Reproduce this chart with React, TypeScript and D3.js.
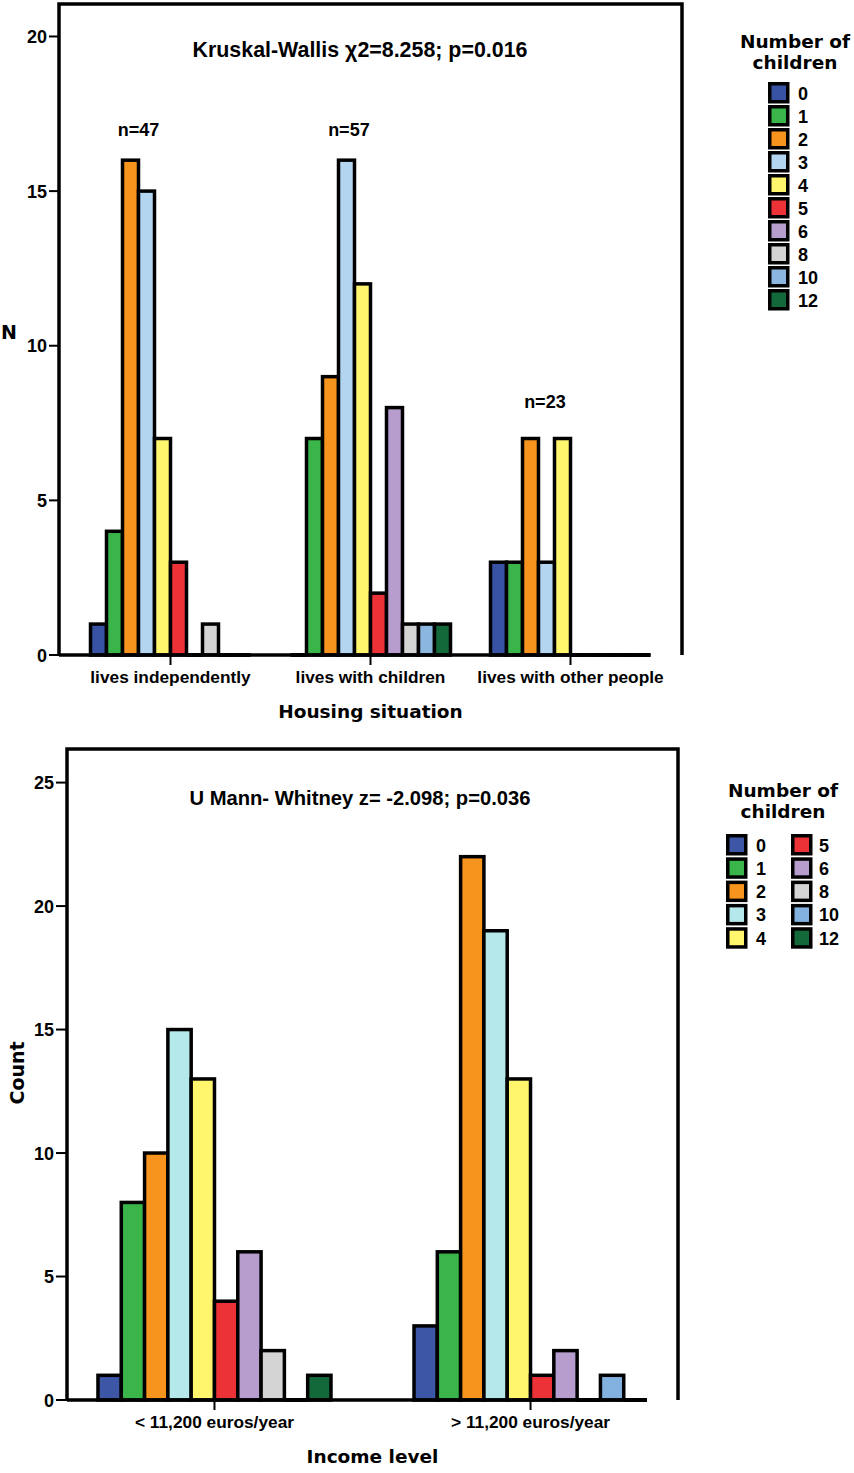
import React from "react";
import * as d3 from "d3";

// ---------- DATA ----------
const childKeys = ["0", "1", "2", "3", "4", "5", "6", "8", "10", "12"];

const housingCategories = ["lives independently", "lives with children", "lives with other people"];
const housingValues = [
  [1, 4, 16, 15, 7, 3, 0, 1, 0, 0],
  [0, 7, 9, 16, 12, 2, 8, 1, 1, 1],
  [3, 3, 7, 3, 7, 0, 0, 0, 0, 0],
];
const housingTicks = [0, 5, 10, 15, 20];
const housingNLabels = ["n=47", "n=57", "n=23"];
const housingNLabelValue = [17, 17, 8.2];
const housingNLabelFrac = [0.3, 0.365, 0.34];
const housingTitle = "Kruskal-Wallis \u03C72=8.258; p=0.016";

const incomeCategories = ["< 11,200 euros/year", "> 11,200 euros/year"];
const incomeValues = [
  [1, 8, 10, 15, 13, 4, 6, 2, 0, 1],
  [3, 6, 22, 19, 13, 1, 2, 0, 1, 0],
];
const incomeTicks = [0, 5, 10, 15, 20, 25];
const incomeTitle = "U Mann- Whitney z= -2.098; p=0.036";

const colorsTop = ["#3953A4", "#39B54A", "#F7941D", "#B4D5F0", "#FFF66E", "#ED3237", "#B79DCE", "#D4D4D4", "#8BB6E0", "#14693A"];
const colorsBottom = ["#3D56A6", "#39B54A", "#F7941D", "#B5E8EB", "#FFF66E", "#ED3237", "#B79DCE", "#D4D4D4", "#82B1E0", "#14693A"];

const ARIAL = "'Liberation Sans', Arial, sans-serif";
const VERD = "'DejaVu Sans', Verdana, sans-serif";

type ChartProps = {
  categories: string[];
  values: number[][];
  colors: string[];
  ticks: number[];
  yMax: number;
  left: number;
  right: number;
  top: number;
  base: number;
  padInner: number;
  padOuter: number;
  tickLen: number;
  title: string;
  titleX: number;
  titleY: number;
  titleSize: number;
  xTitle: string;
  xTitleY: number;
  catLabelY: number;
  yTitle: string;
  yTitleRotate: boolean;
  yTitleX: number;
  yTitleY: number;
  nLabels?: string[];
  nLabelValue?: number[];
  nLabelFrac?: number[];
};

function BarChart(p: ChartProps) {
  const y = d3.scaleLinear().domain([0, p.yMax]).range([p.base, p.top]);
  const x0 = d3
    .scaleBand<string>()
    .domain(p.categories)
    .range([p.left, p.right])
    .paddingInner(p.padInner)
    .paddingOuter(p.padOuter);
  const x1 = d3.scaleBand<string>().domain(childKeys).range([0, x0.bandwidth()]);
  const lastCat = p.categories[p.categories.length - 1];
  const baseEnd = (x0(lastCat) as number) + x0.bandwidth();
  const cx = (p.left + p.right) / 2;

  return (
    <g>
      {/* bars */}
      {p.categories.map((cat, ci) => (
        <g key={cat} transform={`translate(${x0(cat)},0)`}>
          {childKeys.map((k, ki) => {
            const v = p.values[ci][ki];
            const bx = x1(k) as number;
            if (v === 0) {
              return (
                <line key={k} x1={bx} x2={bx + x1.bandwidth()} y1={y(0)} y2={y(0)} stroke="#000" strokeWidth={4} />
              );
            }
            return (
              <rect
                key={k}
                x={bx}
                y={y(v)}
                width={x1.bandwidth()}
                height={y(0) - y(v)}
                fill={p.colors[ki]}
                stroke="#000"
                strokeWidth={3.5}
              />
            );
          })}
        </g>
      ))}
      {/* frame */}
      <path
        d={`M${p.left},${p.base} L${p.left},${p.top} L${p.right},${p.top} L${p.right},${p.base}`}
        fill="none"
        stroke="#000"
        strokeWidth={3.5}
      />
      <line x1={p.left} x2={baseEnd} y1={p.base} y2={p.base} stroke="#000" strokeWidth={3.5} />
      {/* y ticks */}
      {p.ticks.map((t) => (
        <g key={t}>
          <line x1={p.left - p.tickLen} x2={p.left} y1={y(t)} y2={y(t)} stroke="#000" strokeWidth={2} />
          <text
            x={p.left - p.tickLen - 2}
            y={y(t) + 6.5}
            textAnchor="end"
            fontFamily={ARIAL}
            fontWeight="bold"
            fontSize={18}
            fill="#000"
          >
            {t}
          </text>
        </g>
      ))}
      {/* x ticks + labels */}
      {p.categories.map((cat) => {
        const c = (x0(cat) as number) + x0.bandwidth() / 2;
        return (
          <g key={cat}>
            <line x1={c} x2={c} y1={p.base} y2={p.base + 10} stroke="#000" strokeWidth={2} />
            <text x={c} y={p.catLabelY} textAnchor="middle" fontFamily={ARIAL} fontWeight="bold" fontSize={17.3} fill="#000">
              {cat}
            </text>
          </g>
        );
      })}
      {/* n labels */}
      {p.nLabels &&
        p.nLabels.map((t, i) => (
          <text
            key={t}
            x={(x0(p.categories[i]) as number) + x0.bandwidth() * (p.nLabelFrac as number[])[i]}
            y={y((p.nLabelValue as number[])[i]) + 6.5}
            textAnchor="middle"
            fontFamily={ARIAL}
            fontWeight="bold"
            fontSize={18}
            fill="#000"
          >
            {t}
          </text>
        ))}
      {/* title */}
      <text x={p.titleX} y={p.titleY} textAnchor="middle" fontFamily={ARIAL} fontWeight="bold" fontSize={p.titleSize} fill="#000">
        {p.title}
      </text>
      {/* axis titles */}
      <text x={cx} y={p.xTitleY} textAnchor="middle" fontFamily={VERD} fontWeight="bold" fontSize={18.5} fill="#000">
        {p.xTitle}
      </text>
      {p.yTitleRotate ? (
        <text
          transform={`translate(${p.yTitleX},${p.yTitleY}) rotate(-90)`}
          textAnchor="middle"
          fontFamily={VERD}
          fontWeight="bold"
          fontSize={19}
          fill="#000"
        >
          {p.yTitle}
        </text>
      ) : (
        <text x={p.yTitleX} y={p.yTitleY} fontFamily={VERD} fontWeight="bold" fontSize={19} fill="#000">
          {p.yTitle}
        </text>
      )}
    </g>
  );
}

type LegendProps = {
  colors: string[];
  cx: number;
  titleY1: number;
  titleY2: number;
  columns: { x: number; labelX: number; keys: number[] }[];
  rowTop: number;
  rowPitch: number;
};

function Legend(p: LegendProps) {
  return (
    <g>
      <text x={p.cx} y={p.titleY1} textAnchor="middle" fontFamily={VERD} fontWeight="bold" fontSize={18.5} fill="#000">
        Number of
      </text>
      <text x={p.cx} y={p.titleY2} textAnchor="middle" fontFamily={VERD} fontWeight="bold" fontSize={18.5} fill="#000">
        children
      </text>
      {p.columns.map((col, ci) =>
        col.keys.map((ki, ri) => {
          const yy = p.rowTop + ri * p.rowPitch;
          return (
            <g key={`${ci}-${ki}`}>
              <rect x={col.x + 1.75} y={yy + 1.75} width={18} height={18} fill={p.colors[ki]} stroke="#000" strokeWidth={3.5} />
              <text x={col.labelX} y={yy + 17.5} fontFamily={ARIAL} fontWeight="bold" fontSize={18} fill="#000">
                {childKeys[ki]}
              </text>
            </g>
          );
        })
      )}
    </g>
  );
}

export default function App() {
  return (
    <svg
      width={854}
      height={1473}
      viewBox="0 0 854 1473"
      style={{ position: "absolute", left: 0, top: 0, background: "#fff" }}
    >
      <rect x={0} y={0} width={854} height={1473} fill="#fff" />
      <BarChart
        categories={housingCategories}
        values={housingValues}
        colors={colorsTop}
        ticks={housingTicks}
        yMax={21.05}
        left={59}
        right={682}
        top={4}
        base={655}
        padInner={0.2}
        padOuter={0.1575}
        tickLen={10}
        title={housingTitle}
        titleX={360}
        titleY={57}
        titleSize={21.4}
        xTitle="Housing situation"
        xTitleY={718}
        catLabelY={683}
        yTitle="N"
        yTitleRotate={false}
        yTitleX={1}
        yTitleY={339}
        nLabels={housingNLabels}
        nLabelValue={housingNLabelValue}
        nLabelFrac={housingNLabelFrac}
      />
      <Legend
        colors={colorsTop}
        cx={795}
        titleY1={48}
        titleY2={69}
        columns={[{ x: 768, labelX: 798, keys: [0, 1, 2, 3, 4, 5, 6, 7, 8, 9] }]}
        rowTop={82}
        rowPitch={23}
      />
      <BarChart
        categories={incomeCategories}
        values={incomeValues}
        colors={colorsBottom}
        ticks={incomeTicks}
        yMax={26.36}
        left={67}
        right={678}
        top={749}
        base={1400}
        padInner={0.2627}
        padOuter={0.098}
        tickLen={11}
        title={incomeTitle}
        titleX={360}
        titleY={805}
        titleSize={20.2}
        xTitle="Income level"
        xTitleY={1463}
        catLabelY={1428}
        yTitle="Count"
        yTitleRotate={true}
        yTitleX={24}
        yTitleY={1073}
      />
      <Legend
        colors={colorsBottom}
        cx={783}
        titleY1={797}
        titleY2={818}
        columns={[
          { x: 726, labelX: 756, keys: [0, 1, 2, 3, 4] },
          { x: 791, labelX: 819, keys: [5, 6, 7, 8, 9] },
        ]}
        rowTop={834}
        rowPitch={23.3}
      />
    </svg>
  );
}
